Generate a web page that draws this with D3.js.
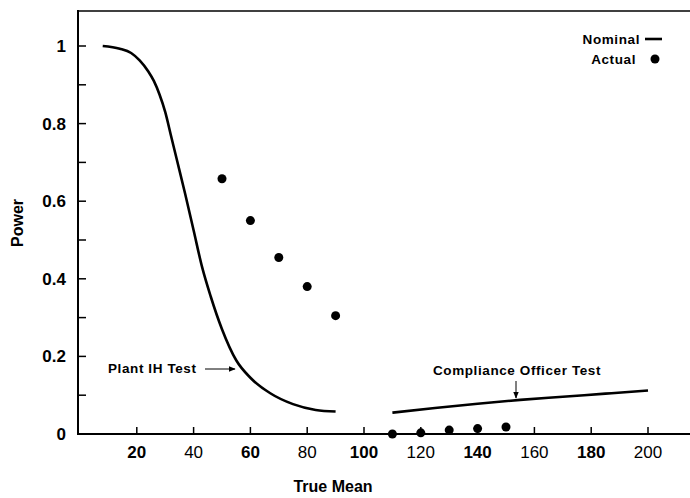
<!DOCTYPE html>
<html lang="en">
  <head>
    <meta charset="UTF-8" />
    <title>Power vs True Mean</title>
    <script src="https://d3js.org/d3.v7.min.js"></script>
    <style>
      body { margin: 0; background: #fff; }
      text { font-family: 'Liberation Sans', Arial, sans-serif; fill: #000; }
    </style>
  </head>
  <body>
    <svg width="690" height="498"></svg>
    <script>
      // nominal power, plant IH test (left curve)
      var plantX = [8, 14, 18, 21, 24, 26, 28, 30, 32, 34, 37, 40, 43, 46, 50, 55, 60, 67, 75, 83, 90]
      var plantY = [1.0, 0.993, 0.982, 0.963, 0.935, 0.91, 0.875, 0.83, 0.77, 0.71, 0.62, 0.525, 0.43, 0.355, 0.27, 0.19, 0.145, 0.105, 0.077, 0.062, 0.058]
      // nominal power, compliance officer test (right line)
      var compX = [110, 125, 140, 155, 170, 185, 200]
      var compY = [0.055, 0.067, 0.078, 0.088, 0.096, 0.104, 0.112]
      // actual power (dots)
      var actualX = [50, 60, 70, 80, 90, 110, 120, 130, 140, 150]
      var actualY = [0.658, 0.55, 0.455, 0.38, 0.305, 0.0, 0.003, 0.01, 0.014, 0.018]
      // tick labels
      var xTicks = [20, 40, 60, 80, 100, 120, 140, 160, 180, 200]
      var xBold = [20, 60, 100, 140, 180]
      var yTicks = [0, 0.2, 0.4, 0.6, 0.8, 1]
      var yMinor = [0.1, 0.3, 0.5, 0.7, 0.9]

      var svg = d3.select('svg')
      var x = d3.scaleLinear().domain([0, 200]).range([80, 648])
      var y = d3.scaleLinear().domain([0, 1]).range([434, 46])

      // frame: left axis, top line, bottom axis
      svg.append('line').attr('x1', 78).attr('x2', 78).attr('y1', 10).attr('y2', 435)
        .attr('stroke', '#000').attr('stroke-width', 2)
      svg.append('line').attr('x1', 77).attr('x2', 690).attr('y1', 11).attr('y2', 11)
        .attr('stroke', '#000').attr('stroke-width', 1.6)
      svg.append('line').attr('x1', 77).attr('x2', 690).attr('y1', 434).attr('y2', 434)
        .attr('stroke', '#000').attr('stroke-width', 1.8)

      // y ticks (inward)
      svg.selectAll('.ytick').data(yTicks.concat(yMinor)).enter().append('line')
        .attr('x1', 78).attr('x2', 86)
        .attr('y1', d => y(d)).attr('y2', d => y(d))
        .attr('stroke', '#000').attr('stroke-width', 1.5)
      svg.selectAll('.ylab').data(yTicks).enter().append('text')
        .attr('x', 66).attr('y', d => y(d) + 6)
        .attr('text-anchor', 'end')
        .attr('font-size', 17).attr('font-weight', 'bold')
        .text(d => d === 0 ? '0' : d === 1 ? '1' : d.toFixed(1))

      // x ticks (inward)
      svg.selectAll('.xtick').data(xTicks).enter().append('line')
        .attr('x1', d => x(d)).attr('x2', d => x(d))
        .attr('y1', 434).attr('y2', 427)
        .attr('stroke', '#000').attr('stroke-width', 1.5)
      svg.selectAll('.xlab').data(xTicks).enter().append('text')
        .attr('x', d => x(d)).attr('y', 458)
        .attr('text-anchor', 'middle')
        .attr('font-size', 17)
        .attr('font-weight', d => xBold.indexOf(d) >= 0 ? 'bold' : 'normal')
        .text(d => d)

      // axis titles
      svg.append('text').attr('x', 333).attr('y', 492).attr('text-anchor', 'middle')
        .attr('font-size', 16).attr('font-weight', 'bold').text('True Mean')
      svg.append('text').attr('transform', 'translate(23,223) rotate(-90)')
        .attr('text-anchor', 'middle')
        .attr('font-size', 16).attr('font-weight', 'bold').text('Power')

      // nominal curves
      var line = d3.line().x(d => x(d[0])).y(d => y(d[1])).curve(d3.curveMonotoneX)
      svg.append('path').attr('d', line(d3.zip(plantX, plantY)))
        .attr('fill', 'none').attr('stroke', '#000').attr('stroke-width', 2.6)
      svg.append('path').attr('d', line(d3.zip(compX, compY)))
        .attr('fill', 'none').attr('stroke', '#000').attr('stroke-width', 2.6)

      // actual dots
      svg.selectAll('.dot').data(d3.zip(actualX, actualY)).enter().append('circle')
        .attr('cx', d => x(d[0])).attr('cy', d => y(d[1])).attr('r', 4.5)
        .attr('fill', '#000')

      // arrowhead
      svg.append('defs').append('marker').attr('id', 'arr')
        .attr('viewBox', '0 0 10 10').attr('refX', 9).attr('refY', 5)
        .attr('markerWidth', 7).attr('markerHeight', 7).attr('orient', 'auto')
        .append('path').attr('d', 'M0,1 L10,5 L0,9 Z').attr('fill', '#000')

      // annotations
      svg.append('text').attr('x', 108).attr('y', 373)
        .attr('font-size', 13.5).attr('font-weight', 'bold').attr('letter-spacing', 0.6)
        .text('Plant IH Test')
      svg.append('line').attr('x1', 205).attr('x2', 235).attr('y1', 369).attr('y2', 369)
        .attr('stroke', '#000').attr('stroke-width', 1).attr('marker-end', 'url(#arr)')
      svg.append('text').attr('x', 517).attr('y', 375).attr('text-anchor', 'middle')
        .attr('font-size', 13.5).attr('font-weight', 'bold').attr('letter-spacing', 0.6)
        .text('Compliance Officer Test')
      svg.append('line').attr('x1', 516).attr('x2', 516).attr('y1', 381).attr('y2', 398)
        .attr('stroke', '#000').attr('stroke-width', 1).attr('marker-end', 'url(#arr)')

      // legend
      svg.append('text').attr('x', 640).attr('y', 44).attr('text-anchor', 'end')
        .attr('font-size', 13.5).attr('font-weight', 'bold').attr('letter-spacing', 0.6)
        .text('Nominal')
      svg.append('line').attr('x1', 645).attr('x2', 662).attr('y1', 39).attr('y2', 39)
        .attr('stroke', '#000').attr('stroke-width', 2.6)
      svg.append('text').attr('x', 636).attr('y', 64).attr('text-anchor', 'end')
        .attr('font-size', 13.5).attr('font-weight', 'bold').attr('letter-spacing', 0.6)
        .text('Actual')
      svg.append('circle').attr('cx', 655).attr('cy', 59).attr('r', 4.5).attr('fill', '#000')
    </script>
  </body>
</html>
